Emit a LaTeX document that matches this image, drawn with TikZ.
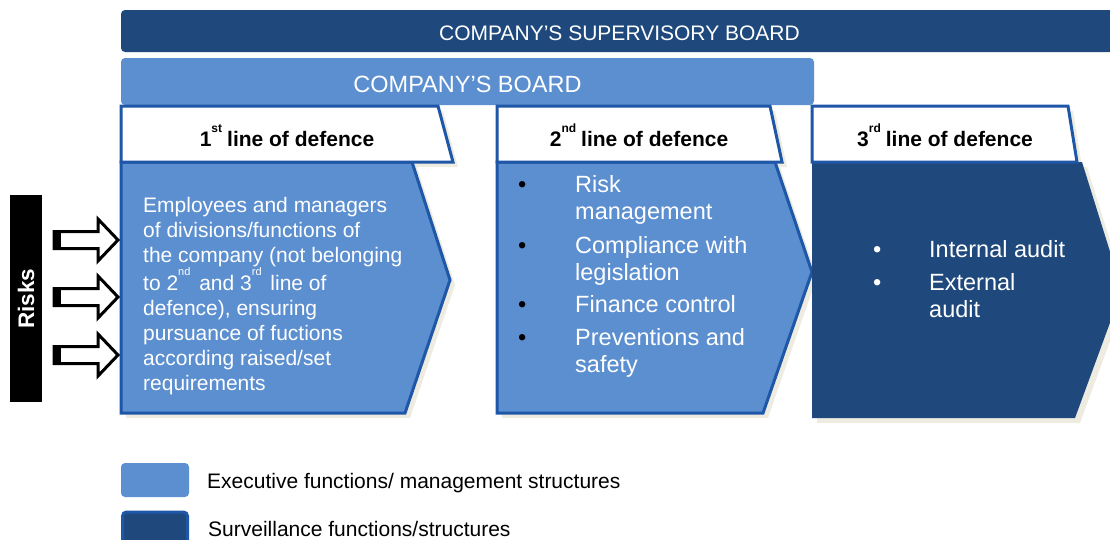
\documentclass[tikz,border=0pt]{standalone}
\usepackage{fontspec}
\setmainfont{Liberation Sans}
\usetikzlibrary{positioning}
\definecolor{boarddark}{RGB}{31,73,125}
\definecolor{boardlight}{RGB}{92,143,208}
\definecolor{edgeblue}{RGB}{30,86,168}
\definecolor{shadowbeige}{RGB}{238,236,225}

\newcommand{\hdrsup}[1]{\raisebox{14pt}{\fontsize{12}{12}\selectfont #1}}
\newcommand{\txtsup}[1]{\raisebox{15pt}{\fontsize{11}{11}\selectfont #1}}

\begin{document}
\begin{tikzpicture}[x=1pt, y=-1pt,
  board/.style={rounded corners=4pt, inner sep=0pt, text=white},
  hdrbox/.style={fill=white, draw=edgeblue, line width=3pt},
  bodybox/.style={fill=boardlight, draw=edgeblue, line width=3pt},
  hdrtext/.style={font=\fontsize{21}{25}\selectfont\bfseries, inner sep=0pt, anchor=base},
  bodytext/.style={text=white, align=left, inner sep=0pt, anchor=north west},
  legtext/.style={anchor=base west, inner sep=0pt, font=\fontsize{21}{21}\selectfont},
  riskarrow/.pic={
    \draw[fill=white, line width=3pt, line join=miter]
      (-64,-8.5) -- (-20,-8.5) -- (-20,-21) -- (0,0) -- (-20,21) -- (-20,8.5) -- (-64,8.5) -- cycle;
    \fill (-65.5,-10) rectangle (-57,10);
  }]
  \useasboundingbox (0,0) rectangle (1110,539);

  % Boards
  \node[board, fill=boarddark, minimum width=997pt, minimum height=42pt,
        font=\fontsize{21}{21}\selectfont] (supboard) at (619.5,31)
        {\raisebox{-9pt}[0pt][0pt]{COMPANY'S SUPERVISORY BOARD}};
  \node[board, fill=boardlight, minimum width=693pt, minimum height=47pt,
        font=\fontsize{23.5}{23.5}\selectfont] (compboard) at (467.5,81.5)
        {\raisebox{-10.5pt}[0pt][0pt]{COMPANY'S BOARD}};

  % Shadows
  \begin{scope}[shift={(5,5)}]
    \fill[shadowbeige] (121,106) -- (438,106) -- (453,162) -- (412,162) -- (450,280) -- (405,413) -- (121,413) -- cycle;
    \fill[shadowbeige] (497,106) -- (770,106) -- (782,162) -- (775,162) -- (812,272) -- (763,413) -- (497,413) -- cycle;
    \fill[shadowbeige] (812,106) -- (1068,106) -- (1077,162) -- (1082,162) -- (1122,290) -- (1075,418) -- (812,418) -- cycle;
  \end{scope}

  % 1st line of defence
  \draw[bodybox] (121,162) -- (412,162) -- (450,280) -- (405,413) -- (121,413) -- cycle;
  \draw[hdrbox] (121,106) -- (438,106) -- (453,162) -- (121,162) -- cycle;
  \node[hdrtext] (hdr1) at (287,146) {1\hdrsup{st}\hspace{5pt}line of defence};
  \node[bodytext, font=\fontsize{21}{25}\selectfont] (duties1) at (143,197)
    {Employees and managers\\
     of divisions/functions of\\
     the company (not belonging\\
     to 2\txtsup{nd}\hspace{3pt} and 3\txtsup{rd}\hspace{3pt} line of\\
     defence), ensuring\\
     pursuance of fuctions\\
     according raised/set\\
     requirements};

  % 2nd line of defence
  \draw[bodybox] (497,162) -- (775,162) -- (812,272) -- (763,413) -- (497,413) -- cycle;
  \draw[hdrbox] (497,106) -- (770,106) -- (782,162) -- (497,162) -- cycle;
  \node[hdrtext] (hdr2) at (639,146) {2\hdrsup{nd}\hspace{5pt}line of defence};
  \node[bodytext, font=\fontsize{23.5}{27}\selectfont] (duties2) at (518,173)
    {\begin{tabular}{@{}p{57pt}@{}l@{}}
       \textcolor{black}{\textbullet} & Risk\\
                                      & management\\[7pt]
       \textcolor{black}{\textbullet} & Compliance with\\
                                      & legislation\\[5pt]
       \textcolor{black}{\textbullet} & Finance control\\[6pt]
       \textcolor{black}{\textbullet} & Preventions and\\
                                      & safety
     \end{tabular}};

  % 3rd line of defence
  \fill[boarddark] (812,162) -- (1082,162) -- (1122,290) -- (1075,418) -- (812,418) -- cycle;
  \draw[hdrbox] (812,106) -- (1068,106) -- (1077,162) -- (812,162) -- cycle;
  \node[hdrtext] (hdr3) at (945,146) {3\hdrsup{rd}\hspace{5pt}line of defence};
  \node[bodytext, font=\fontsize{23.5}{27}\selectfont] (duties3) at (873,238)
    {\begin{tabular}{@{}p{56pt}@{}l@{}}
       \textbullet & Internal audit\\[6pt]
       \textbullet & External\\
                   & audit
     \end{tabular}};

  % Risks
  \node[fill=black, rotate=90, minimum width=207pt, minimum height=32pt, inner sep=0pt,
        text=white, font=\fontsize{22.5}{22.5}\selectfont\bfseries] (risks) at (26,298.5) {Risks};
  \pic (risk1) at (118,240) {riskarrow};
  \pic (risk2) at (118,297) {riskarrow};
  \pic (risk3) at (118,355) {riskarrow};

  % Legend
  \node[board, fill=boardlight, minimum width=68pt, minimum height=34pt] (legexec) at (155,480) {};
  \node[legtext] (legexectxt) at (207,488) {Executive functions/ management structures};
  \node[board, fill=boarddark, draw=edgeblue, line width=3pt, minimum width=65pt,
        minimum height=40pt] (legsurv) at (155,532) {};
  \node[legtext] (legsurvtxt) at (208,536) {Surveillance functions/structures};
\end{tikzpicture}
\end{document}
